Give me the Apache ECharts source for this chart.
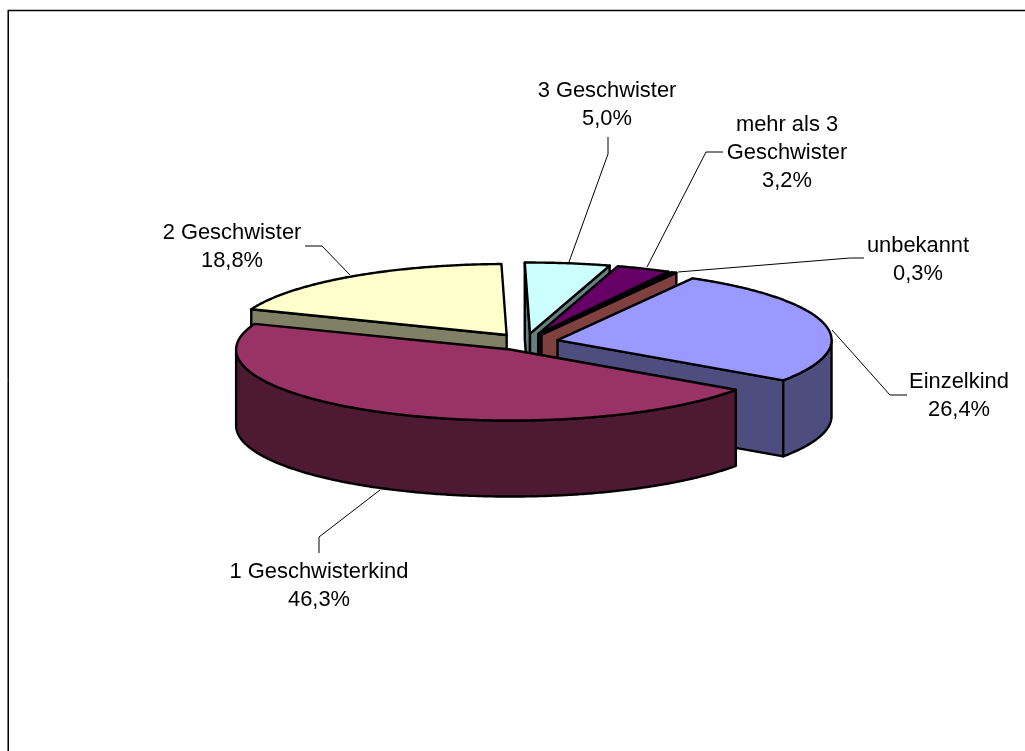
<!DOCTYPE html>
<html>
<head>
<meta charset="utf-8">
<style>html,body{margin:0;padding:0;background:#fff}#c{width:1025px;height:751px}</style>
<script src="https://cdn.jsdelivr.net/npm/echarts@6/dist/echarts.min.js"></script>
</head>
<body>
<div id="c"></div>
<script>
// Data, clockwise from the first slice
const categories = ['Einzelkind', '1 Geschwisterkind', '2 Geschwister', '3 Geschwister', 'mehr als 3\nGeschwister', 'unbekannt'];
const shares = [26.4, 46.3, 18.8, 5.0, 3.2, 0.3];
const topColors = ['#9999FF', '#993366', '#FFFFCC', '#CCFFFF', '#660066', '#FF8080'];
const sideColors = ['#4D4D80', '#4D1933', '#808066', '#668080', '#330033', '#804040'];
// Back-to-front painting order (indices into the arrays above)
const paintOrder = [2, 3, 4, 5, 0, 1];

// Pie projection
const PIE = { cx: 525.5, cy: 342, rx: 274, ry: 71, depth: 76, explode: 0.12, startDeg: -60.5, fontSize: 21.9 };

// Label anchors and leader lines (annotation layout)
const labelAnchors = [[959, 396], [319, 586], [232, 247], [607, 105], [787, 153], [918, 260]];
const leaderLines = [
  [[907, 395], [890, 395], [832, 330]],
  [[319, 553], [319, 537], [380, 490]],
  [[305, 246], [322, 246], [350, 275]],
  [[608, 137], [608, 154], [569, 262]],
  [[723, 152], [706, 152], [647, 267]],
  [[864, 258], [850, 258], [678, 272]]
];

const total = shares.reduce((a, b) => a + b, 0);
const spans = [];
shares.reduce((start, v) => {
  const end = start + v / total * 360;
  spans.push([start, end]);
  return end;
}, PIE.startDeg);

const rad = d => d * Math.PI / 180;
function apexOf(i) {
  const m = rad((spans[i][0] + spans[i][1]) / 2);
  return [PIE.cx + Math.cos(m) * PIE.rx * PIE.explode, PIE.cy + Math.sin(m) * PIE.ry * PIE.explode];
}
function rimPoint(apex, deg) {
  return [apex[0] + Math.cos(rad(deg)) * PIE.rx, apex[1] + Math.sin(rad(deg)) * PIE.ry];
}
function arcPoints(apex, a, b) {
  const pts = [];
  const n = Math.max(1, Math.ceil(Math.abs(b - a) * 2));
  for (let k = 0; k <= n; k++) pts.push(rimPoint(apex, a + (b - a) * k / n));
  return pts;
}
const drop = p => [p[0], p[1] + PIE.depth];
const edgeStyle = fill => ({ fill, stroke: '#000', lineWidth: 2.4, lineJoin: 'round' });

function sliceElements(i) {
  const apex = apexOf(i);
  const [a, b] = spans[i];
  const out = [];
  const face = (deg) => {
    const rim = rimPoint(apex, deg);
    out.push({ type: 'polygon', shape: { points: [apex, rim, drop(rim), drop(apex)] }, style: edgeStyle(sideColors[i]) });
  };
  // cut faces turned towards the viewer
  if (Math.cos(rad(a)) < -1e-6) face(a);
  if (Math.cos(rad(b)) > 1e-6) face(b);
  // outer wall on the front half of the rim
  const wa = Math.max(a, 0), wb = Math.min(b, 180);
  if (wb > wa) {
    const arc = arcPoints(apex, wa, wb);
    out.push({ type: 'polygon', shape: { points: arc.concat(arc.map(drop).reverse()) }, style: edgeStyle(sideColors[i]) });
  }
  // top surface
  out.push({ type: 'polygon', shape: { points: [apex].concat(arcPoints(apex, a, b)) }, style: edgeStyle(topColors[i]) });
  return out;
}

function percentText(v) { return v.toFixed(1).replace('.', ',') + '%'; }

function renderItem(params) {
  const i = paintOrder[params.dataIndex];
  return { type: 'group', children: sliceElements(i) };
}

function renderLabel(params) {
  const i = params.dataIndex;
  return {
    type: 'group',
    children: [
      { type: 'polyline', shape: { points: leaderLines[i] }, style: { fill: null, stroke: '#000', lineWidth: 1 } },
      { type: 'text', x: labelAnchors[i][0], y: labelAnchors[i][1],
        style: { text: categories[i] + '\n' + percentText(shares[i]), fill: '#000',
          font: PIE.fontSize + 'px "Liberation Sans", Arial, sans-serif',
          lineHeight: 27.7, align: 'center', verticalAlign: 'middle' } }
    ]
  };
}

const chart = echarts.init(document.getElementById('c'), null, { renderer: 'canvas' });
chart.setOption({
  animation: false,
  backgroundColor: '#ffffff',
  graphic: [
    { type: 'line', shape: { x1: 8, y1: 10.5, x2: 1025, y2: 10.5 }, style: { stroke: '#000', lineWidth: 1.4 } },
    { type: 'line', shape: { x1: 7.5, y1: 10, x2: 7.5, y2: 751 }, style: { stroke: '#777', lineWidth: 1 } },
    { type: 'line', shape: { x1: 8.5, y1: 10, x2: 8.5, y2: 751 }, style: { stroke: '#000', lineWidth: 1 } }
  ],
  series: [
    { type: 'custom', coordinateSystem: 'none', silent: true, z: 2, renderItem,
      data: paintOrder.map(i => [shares[i]]) },
    { type: 'custom', coordinateSystem: 'none', silent: true, z: 3, renderItem: renderLabel,
      data: categories.map((c, i) => ({ name: c, value: shares[i] })) }
  ]
});
</script>
</body>
</html>
